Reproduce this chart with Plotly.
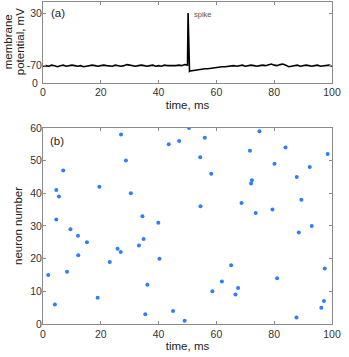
import plotly.graph_objects as go
from plotly.subplots import make_subplots

# membrane potential trace (ms, mV)
trace_t = list(range(0, 50)) + [50.0, 50.2, 50.45, 50.7] + list(range(51, 101))
trace_v = [
    -71, -70, -71, -69, -70, -72, -70, -69, -71, -70,
    -69, -70, -71, -70, -72, -71, -70, -69, -70, -71,
    -70, -69, -70, -70, -71, -69, -70, -71, -70, -68,
    -69, -70, -71, -70, -69, -70, -71, -70, -69, -71,
    -70, -71, -69, -70, -70, -71, -70, -69, -70, -68,
    -69, 30, -80, -81,
    -80, -79, -78, -78, -77, -76, -76, -75, -74, -73,
    -73, -72, -72, -71, -71, -70, -71, -70, -69, -71,
    -70, -69, -70, -71, -70, -69, -70, -68, -67, -69,
    -70, -68, -67, -69, -72, -71, -70, -69, -71, -70,
    -69, -70, -71, -70, -69, -71, -70, -70, -69, -71,
]

# spike times of each neuron (ms)
spike_t = [
    50.5, 27, 28.7, 7, 19.5, 4.6, 5.5, 30.4, 43.5, 47.1,
    4.6, 34.4, 39.9, 9.5, 12.1, 15.2, 34.8, 33.2, 1.8, 4.1,
    8.3, 12.2, 18.9, 23.1, 25.8, 26.9, 40.3, 36.1, 35.4, 45,
    49, 56, 74.9, 54.4, 71.6, 83.9, 98.5, 58.2, 80.1, 92.3,
    87.8, 72.3, 72, 54.5, 68.7, 73.6, 79.4, 89.4, 93, 88.5,
    65.1, 61.9, 81, 97.5, 58.6, 67.5, 66.6, 97.2, 96.3, 87.7,
]
neuron = [
    60, 58, 50, 47, 42, 41, 39, 40, 55, 56,
    32, 33, 31, 29, 27, 25, 26, 24, 15, 6,
    16, 21, 8, 19, 23, 22, 20, 12, 3, 4,
    1, 57, 59, 51, 53, 54, 52, 46, 49, 48,
    45, 44, 43, 36, 37, 34, 35, 38, 30, 28,
    18, 13, 14, 17, 10, 11, 9, 7, 5, 2,
]

top_ticks = [-70, 30]
top_labels = ["-70", "30"]

FONT = "Liberation Sans, Arial"

fig = make_subplots(rows=2, cols=1)

fig.add_trace(
    go.Scatter(x=trace_t, y=trace_v, mode="lines",
               line=dict(color="black", width=1.6), showlegend=False),
    row=1, col=1,
)
fig.add_trace(
    go.Scatter(x=spike_t, y=neuron, mode="markers",
               marker=dict(color="#2a7fff", size=4), showlegend=False),
    row=2, col=1,
)

axis_style = dict(
    showline=True, linecolor="#8a8a8a", linewidth=1, mirror="ticks",
    ticks="inside", ticklen=3, tickcolor="#8a8a8a",
    showgrid=False, zeroline=False, automargin=False,
    tickfont=dict(family=FONT, size=10.5, color="#333"),
    title_font=dict(family=FONT, size=11.5, color="#222"),
)

fig.update_xaxes(axis_style)
fig.update_yaxes(axis_style)
fig.update_yaxes(ticklabelstandoff=-2)

fig.update_xaxes(range=[0, 100], tickvals=[0, 20, 40, 60, 80, 100],
                 title_text="time, ms", title_standoff=3, row=1, col=1)
fig.update_xaxes(range=[0, 100], tickvals=[0, 20, 40, 60, 80, 100],
                 title_text="time, ms", title_standoff=3, row=2, col=1)
fig.update_yaxes(range=[-102, 51], tickvals=top_ticks, ticktext=top_labels,
                 row=1, col=1)
fig.update_yaxes(range=[0, 60], tickvals=[0, 10, 20, 30, 40, 50, 60],
                 title_text="neuron number", title_standoff=5, row=2, col=1)

# panel positions (paper fractions)
fig.update_layout(
    yaxis=dict(domain=[0.750, 1.0]),
    yaxis2=dict(domain=[0.0, 0.609]),
)

# "0" label at the bottom corner of the top panel
fig.add_annotation(text="0", xref="paper", yref="paper", x=0, y=0.75,
                   xanchor="right", yanchor="middle", xshift=-3, showarrow=False,
                   font=dict(family=FONT, size=10.5, color="#333"))

for line_text, shift in [("membrane", -35), ("potential, mV", -23)]:
    fig.add_annotation(text=line_text, xref="paper", yref="paper",
                       x=0, y=0.875, xanchor="center", yanchor="middle", xshift=shift,
                       textangle=-90, showarrow=False,
                       font=dict(family=FONT, size=11.5, color="#222"))
fig.add_annotation(text="(a)", x=2.0, y=30, xref="x", yref="y", showarrow=False,
                   xanchor="left", font=dict(family=FONT, size=11.5, color="#222"))
fig.add_annotation(text="spike", x=51.5, y=27, xref="x", yref="y", showarrow=False,
                   xanchor="left", font=dict(family=FONT, size=7.5, color="#555"))
fig.add_annotation(text="(b)", x=1.8, y=56, xref="x2", yref="y2", showarrow=False,
                   xanchor="left", font=dict(family=FONT, size=11.5, color="#222"))

fig.update_layout(
    width=349, height=357,
    margin=dict(l=43, r=17, t=2, b=33),
    plot_bgcolor="white", paper_bgcolor="white",
)

fig.write_html("out.html", config={"displayModeBar": False},
               post_script="document.body.style.margin='0';")
